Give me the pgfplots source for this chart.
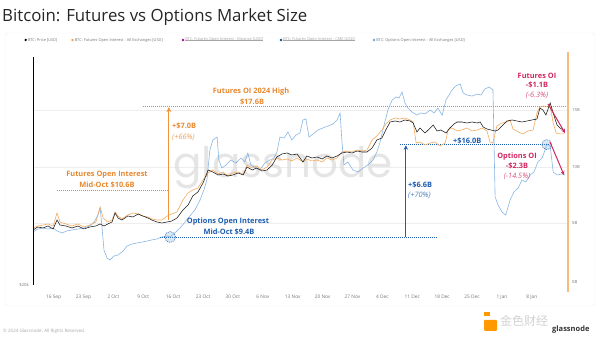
\documentclass[border=0pt]{standalone}
\usepackage{pgfplots}
\pgfplotsset{compat=1.18}
\usetikzlibrary{arrows.meta}
\usepackage{fontspec}
\setmainfont{Open Sans}
\newfontfamily\cjk{Noto Sans CJK SC}
\newfontfamily\wm{Poppins}
\definecolor{futline}{HTML}{F4A556}
\definecolor{futtext}{HTML}{E8892F}
\definecolor{futarrow}{HTML}{F0923E}
\definecolor{optline}{HTML}{6CA6DD}
\definecolor{opttext}{HTML}{1C5DB0}
\definecolor{crim}{HTML}{D0285F}
\definecolor{tickgray}{HTML}{777777}
\begin{document}
\begin{tikzpicture}[x=1pt,y=1pt]
\path[use as bounding box, fill=white] (0,0) rectangle (600,344);
% panel
\draw[gray!12, rounded corners=3pt] (5,38) rectangle (595,311);
% title
\node[anchor=base west, inner sep=0pt, text=black!85, font=\fontsize{16.8}{19}\selectfont] at (2,322.3) {Bitcoin: Futures vs Options Market Size};
% legend
\def\lgf{\fontsize{3.9}{4.5}\selectfont}
\fill[black] (25.7,304) circle (1.3);
\node[anchor=west, inner sep=0pt, font=\lgf, text=tickgray] at (27.8,304) {BTC: Price [USD]};
\fill[futline] (72.5,304) circle (1.3);
\node[anchor=west, inner sep=0pt, font=\lgf, text=tickgray] at (74.6,304) {BTC: Futures Open Interest - All Exchanges [USD]};
\fill[violet!70!magenta] (183,304) circle (1.3);
\node[anchor=west, inner sep=0pt, font=\lgf, text=gray!70] (bn) at (185.1,304) {BTC: Futures Open Interest - Binance [USD]};
\draw[gray!70, line width=0.3pt] (bn.west) -- (bn.east);
\fill[opttext!80!black] (281,304) circle (1.3);
\node[anchor=west, inner sep=0pt, font=\lgf, text=gray!70] (cm) at (283.1,304) {BTC: Futures Open Interest - CME [USD]};
\draw[gray!70, line width=0.3pt] (cm.west) -- (cm.east);
\fill[optline] (374,304) circle (1.3);
\node[anchor=west, inner sep=0pt, font=\lgf, text=tickgray] at (376.1,304) {BTC: Options Open Interest - All Exchanges [USD]};
% grid
\foreach \gy in {234,177,121} {\draw[gray!13, line width=0.4pt] (33,\gy) -- (568,\gy);}
% watermark
\node[text=gray!28, font=\wm\fontsize{42}{44}\selectfont, opacity=0.7] at (283,176) {glassnode};
\pgfplotsset{base/.style={at={(33pt,59pt)}, anchor=south west, scale only axis, width=535pt, height=228pt, xmin=-4.82, xmax=120.47}}
% ---------------- options OI axis
\begin{axis}[base, ymin=5.971, ymax=22.257, axis line style={draw=none}, tick style={draw=none}, ytick=\empty,
  xtick={0,7,...,112},
  xticklabels={16 Sep,23 Sep,2 Oct,9 Oct,16 Oct,23 Oct,30 Oct,6 Nov,13 Nov,20 Nov,27 Nov,4 Dec,11 Dec,18 Dec,25 Dec,1 Jan,8 Jan},
  xticklabel style={font=\fontsize{4.8}{5}\selectfont, text=tickgray, anchor=center, yshift=-12pt}]
\addplot[optline, line width=0.6pt, opacity=0.8] table {
-4.8 9.76
-3.7 9.97
-2.5 10.04
-1.3 9.97
-0.1 10.04
0.8 9.83
2.0 9.69
3.1 9.83
4.3 9.90
5.7 9.97
7.1 10.04
8.5 10.19
9.5 10.47
10.4 10.97
10.9 11.47
11.3 10.26
11.8 8.47
12.5 7.90
13.2 7.76
14.1 8.04
15.1 8.11
16.3 8.40
17.2 8.76
18.4 8.90
19.5 8.97
20.7 9.04
21.9 9.11
23.0 9.19
24.2 9.26
25.4 9.40
26.6 9.47
27.3 9.40
28.4 9.69
29.6 10.04
30.8 10.47
31.9 10.90
33.1 11.33
34.3 12.04
35.2 12.76
35.9 13.47
36.6 15.61
37.3 16.33
38.3 16.54
38.7 14.90
39.4 14.33
40.4 14.54
41.5 14.90
42.7 14.69
43.9 15.04
44.8 14.76
45.5 15.40
46.2 14.54
47.4 14.33
48.3 14.19
49.5 14.69
50.7 14.90
51.6 15.04
52.3 15.47
53.0 16.54
54.0 16.47
54.9 16.90
55.8 16.33
56.8 16.69
57.7 16.83
58.4 17.76
59.1 17.83
59.8 16.54
60.8 16.76
61.9 17.04
63.1 17.19
64.3 17.33
65.4 17.47
66.4 17.76
67.1 18.26
67.5 16.33
68.0 14.54
68.9 14.76
70.1 14.19
71.3 14.04
72.5 14.33
73.6 14.54
74.8 14.90
75.7 15.47
76.4 16.11
77.4 17.40
78.3 18.47
79.3 19.19
80.2 19.40
80.9 19.33
81.6 19.76
82.3 18.97
83.0 18.61
83.9 18.33
85.1 18.11
86.0 18.26
87.0 18.19
88.2 18.47
89.1 18.26
90.0 18.61
91.0 18.11
91.9 19.19
92.6 19.54
93.3 19.90
94.2 20.19
95.2 20.33
95.9 19.69
96.8 19.54
98.0 19.47
99.2 19.61
100.1 19.54
101.0 19.97
102.0 20.11
102.9 19.90
103.4 12.26
104.1 11.69
105.0 11.19
105.9 10.97
106.9 12.04
107.8 12.61
108.8 12.90
109.7 13.47
110.6 13.33
111.6 13.83
112.5 14.04
113.4 14.76
114.4 15.04
115.1 15.61
115.5 16.04
116.3 15.90
117.0 14.04
117.9 13.83
119.1 13.90
119.8 13.83
};
\draw[opttext, dash pattern=on 1pt off 1pt, line width=0.5pt] (axis cs:24.9,9.4) -- (axis cs:89.8,9.4);
\draw[opttext, dash pattern=on 1pt off 1pt, line width=0.5pt] (axis cs:81.1,16.0) -- (axis cs:115.8,16.0);
\draw[opttext, line width=1pt, -{Stealth[length=4.5pt,width=4.5pt]}] (axis cs:82.5,9.4) -- (axis cs:82.5,15.95);
\draw[opttext, dash pattern=on 1pt off 1pt, line width=0.5pt, fill=optline, fill opacity=0.25] (axis cs:27.3,9.4) circle[radius=5.5pt];
\draw[opttext, dash pattern=on 1pt off 1pt, line width=0.5pt, fill=optline, fill opacity=0.25] (axis cs:115.5,16.0) circle[radius=5pt];
\end{axis}
% ---------------- futures OI axis
\begin{axis}[base, ymin=2.683, ymax=21.683, hide axis]
\addplot[futline, line width=0.6pt, opacity=0.95] table {
-4.8 7.43
-3.7 7.60
-2.5 7.68
-1.3 7.77
-0.1 7.60
0.8 8.68
1.5 7.93
2.9 7.77
4.3 7.60
5.7 7.77
7.1 7.52
8.5 7.68
9.9 7.93
10.9 9.18
11.6 8.27
12.7 7.93
13.7 8.10
14.4 8.77
15.1 8.43
16.0 8.18
17.4 8.52
18.6 8.68
19.8 8.60
20.9 8.43
22.1 8.35
23.0 8.18
24.2 8.10
25.4 8.10
26.6 8.43
27.7 8.60
28.9 8.77
30.3 9.77
31.5 10.35
32.6 10.60
33.8 10.77
35.0 11.43
36.2 12.02
37.3 12.27
38.5 11.93
39.7 12.10
40.8 11.77
42.0 12.02
43.2 12.10
44.4 11.93
45.3 12.68
46.5 12.43
47.6 12.60
48.8 12.27
50.0 12.52
51.2 13.10
52.3 13.27
53.5 13.10
54.7 13.18
55.8 13.02
57.0 13.27
57.7 13.10
58.4 12.93
59.3 13.18
60.5 13.02
61.7 13.10
62.9 12.93
64.0 13.27
65.2 13.10
66.4 13.27
67.5 13.77
68.7 13.85
69.9 13.77
71.1 13.93
72.2 13.85
73.4 13.93
74.6 14.77
75.7 15.10
76.9 15.60
77.8 16.10
78.8 16.43
80.0 16.60
81.1 16.52
82.3 16.60
83.5 16.43
84.2 16.27
84.9 14.52
85.8 14.60
87.0 14.35
88.2 14.52
89.3 14.60
90.5 14.27
91.7 14.52
92.4 15.60
93.3 15.77
94.5 15.52
95.6 15.60
96.8 15.77
98.0 15.52
99.2 15.60
100.3 15.77
101.5 15.52
102.2 14.60
102.9 14.52
103.8 15.93
105.0 16.18
106.2 16.27
106.9 16.43
107.6 15.68
108.8 15.43
109.9 15.27
111.1 15.52
112.3 15.60
113.2 17.02
113.9 17.52
114.8 17.60
115.5 17.52
116.3 17.60
117.0 16.18
117.7 15.35
118.6 15.27
119.8 15.27
};
\draw[futtext, dash pattern=on 1pt off 1pt, line width=0.5pt] (axis cs:0.8,10.6) -- (axis cs:26.8,10.6);
\draw[futtext, dash pattern=on 1pt off 1pt, line width=0.5pt] (axis cs:20.9,17.6) -- (axis cs:119.8,17.6);
\draw[futarrow, line width=1.2pt, -{Stealth[length=5pt,width=5pt]}] (axis cs:27.0,8.1) -- (axis cs:27.0,17.5);
\end{axis}
% ---------------- BTC price axis
\begin{axis}[base, ymin=29, ymax=143, hide axis]
\addplot[black!90, line width=0.55pt] table {
-4.8 56.5
-3.7 58
-2.5 57.5
-1.3 58.5
-0.1 57
0.8 61.5
1.5 59
2.9 58.5
4.3 57.5
5.7 58.5
7.1 57
8.5 58
9.9 58.5
10.9 59.5
11.8 58.5
12.7 59.5
13.7 60.5
14.4 65
15.1 62.5
16.0 61.5
17.4 63.5
18.6 63
19.8 64.5
20.9 63.5
22.1 62.5
23.0 61.5
24.2 60.5
25.4 60
26.6 60.5
27.7 61
28.9 62.5
30.3 66.5
31.5 69
32.6 73.5
33.8 75.5
35.0 80
36.2 86.5
37.3 85.5
38.5 84
39.7 84.5
40.8 83.5
42.0 84
43.2 85
44.4 84
45.3 88
46.5 86.5
47.6 87.5
48.8 86
50.0 86.5
51.2 89
52.3 93
53.5 94.5
54.7 95
55.8 94
57.0 94.5
57.7 92.5
58.4 90.5
59.3 93.5
60.5 92.5
61.7 93
62.9 92
64.0 93.5
65.2 92.5
66.4 93.5
67.5 95
68.7 95.5
69.9 95
71.1 96
72.2 95.5
73.4 95.5
74.6 97.5
75.7 101.5
76.9 102.5
77.8 106.5
78.8 110.5
80.0 111
81.1 110.5
82.3 111.5
83.5 111
84.2 110
85.1 105.5
85.8 107.5
87.0 105
88.2 107.5
88.9 109
89.8 106
90.7 106.5
91.9 105
92.8 107.5
93.8 109.5
94.5 110.5
95.6 110.5
96.8 110
98.0 110.5
99.2 110
99.9 110.5
100.6 108
101.5 107
102.4 106.5
103.4 106
104.1 106.5
105.0 108.5
106.2 111
107.4 111.5
108.5 111
109.7 110.5
110.9 111
112.0 111.5
113.2 112
113.9 117.5
114.6 116.5
115.3 114
116.3 120
117.0 115
117.9 109
118.6 107.5
119.3 106.5
};
\end{axis}
% axis lines
\draw[black, line width=0.9pt] (33,287) -- (33,59);
\draw[futline!75, line width=1.2pt] (568,292) -- (568,52);
% axis labels
\def\tkf{\fontsize{4.2}{5}\selectfont}
\node[anchor=east, font=\tkf, text=tickgray, inner sep=0pt] at (29,59) {\$20k};
\node[anchor=west, font=\tkf, text=tickgray, inner sep=0pt] at (572,234) {15B};
\node[anchor=west, font=\tkf, text=tickgray, inner sep=0pt] at (572,177) {10B};
\node[anchor=west, font=\tkf, text=tickgray, inner sep=0pt] at (572,121) {5B};
\node[anchor=west, font=\tkf, text=tickgray, inner sep=0pt] at (572,62) {0B};
% annotations
\def\anf{\fontsize{7.4}{8}\selectfont\bfseries}
\def\anfi{\fontsize{7.4}{8}\selectfont\itshape}
\node[font=\anf, text=futtext, inner sep=0pt] at (107,169) {Futures Open Interest};
\node[font=\anf, text=futtext, inner sep=0pt] at (107,159) {Mid-Oct \$10.6B};
\node[anchor=west, font=\anf, text=futtext, inner sep=0pt] at (172,218) {+\$7.0B};
\node[anchor=west, font=\anfi, text=futtext!80, inner sep=0pt] at (172,207) {(+66\%)};
\node[font=\anf, text=futtext, inner sep=0pt] at (251,252) {Futures OI 2024 High};
\node[font=\anf, text=futtext, inner sep=0pt] at (252,242) {\$17.6B};
\node[font=\anf, text=opttext, inner sep=0pt] at (228,122) {Options Open Interest};
\node[font=\anf, text=opttext, inner sep=0pt] at (229,112) {Mid-Oct \$9.4B};
\node[anchor=west, font=\anf, text=opttext, inner sep=0pt] at (408,159) {+\$6.6B};
\node[anchor=west, font=\anfi, text=opttext!80, inner sep=0pt] at (408,149) {(+70\%)};
\node[anchor=west, font=\anf, text=opttext, inner sep=0pt] at (453,203) {+\$16.0B};
\node[font=\anf, text=crim, inner sep=0pt] at (537,268) {Futures OI};
\node[font=\anf, text=crim, inner sep=0pt] at (537,259) {-\$1.1B};
\node[font=\anfi, text=crim!80, inner sep=0pt] at (537,249) {(-6.3\%)};
\node[font=\anf, text=crim, inner sep=0pt] at (517,187) {Options OI};
\node[font=\anf, text=crim, inner sep=0pt] at (517,178) {-\$2.3B};
\node[font=\anfi, text=crim!80, inner sep=0pt] at (517,168) {(-14.5\%)};
\draw[crim, line width=1pt, -{Stealth[length=4pt,width=4pt]}] (548,240) -- (565,211);
\draw[crim, line width=1pt, -{Stealth[length=4pt,width=4pt]}] (550,202) -- (564,169);
% footer
\node[anchor=west, font=\fontsize{4.5}{5}\selectfont, text=gray!70, inner sep=0pt] at (3,13) {\textcopyright{} 2024 Glassnode. All Rights Reserved.};
\fill[orange!80!yellow, rounded corners=1pt] (484,13) rectangle (497,24);
\fill[orange!80!yellow] (484,28) rectangle (490,32);
\node[anchor=west, font=\cjk\fontsize{12}{13}\selectfont, text=gray!35, inner sep=0pt] at (500,23) {金色财经};
\node[anchor=west, font=\bfseries\fontsize{7.5}{9}\selectfont, text=black!80, inner sep=0pt] at (552,14) {glassnode};
\end{tikzpicture}
\end{document}
